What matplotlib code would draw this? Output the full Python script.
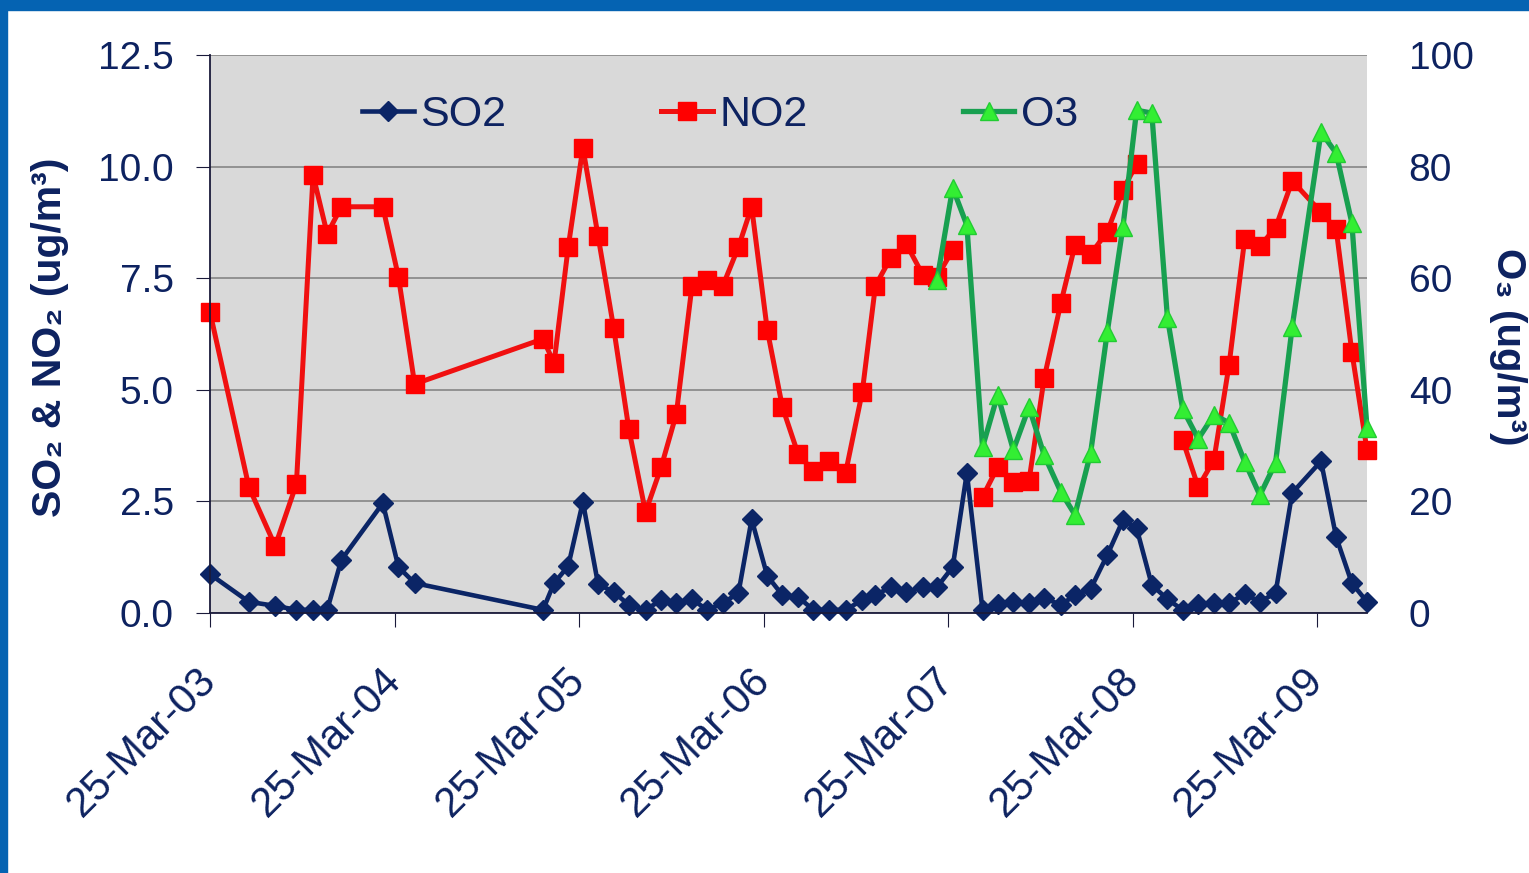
import numpy as np
import pandas as pd
import matplotlib
matplotlib.use('Agg')
import matplotlib.pyplot as plt
import matplotlib.dates as mdates
from matplotlib.patches import Rectangle

plt.rcParams['font.family'] = ['Liberation Sans', 'DejaVu Sans']

# monthly means
dates = ['2003-03-25', '2003-06-10', '2003-08-01', '2003-09-12', '2003-10-15', '2003-11-12',
         '2003-12-10', '2004-03-01', '2004-04-01', '2004-05-03', '2005-01-12', '2005-02-03',
         '2005-03-03', '2005-04-01', '2005-05-01', '2005-06-01', '2005-07-01', '2005-08-03',
         '2005-09-03', '2005-10-03', '2005-11-03', '2005-12-03', '2006-01-03', '2006-02-03',
         '2006-03-01', '2006-04-01', '2006-05-01', '2006-06-01', '2006-07-01', '2006-08-01',
         '2006-09-03', '2006-10-06', '2006-11-01', '2006-12-01', '2007-01-01', '2007-02-03',
         '2007-03-03', '2007-04-03', '2007-05-01', '2007-06-01', '2007-07-01', '2007-08-01',
         '2007-09-01', '2007-10-01', '2007-11-03', '2007-12-01', '2008-01-01', '2008-02-03',
         '2008-03-05', '2008-04-01', '2008-05-01', '2008-06-01', '2008-07-01', '2008-08-01',
         '2008-09-01', '2008-10-01', '2008-11-01', '2008-12-01', '2009-01-01', '2009-02-03',
         '2009-04-01', '2009-05-01', '2009-06-01', '2009-07-01']

so2 = [0.87, 0.25, 0.16, 0.07, 0.07, 0.07, 1.19, 2.46, 1.03, 0.67, 0.07, 0.67,
       1.05, 2.49, 0.65, 0.47, 0.18, 0.07, 0.29, 0.22, 0.31, 0.07, 0.22, 0.45,
       2.10, 0.83, 0.40, 0.36, 0.07, 0.07, 0.07, 0.29, 0.40, 0.58, 0.47, 0.58,
       0.58, 1.03, 3.14, 0.07, 0.20, 0.25, 0.22, 0.34, 0.18, 0.40, 0.54, 1.30,
       2.08, 1.90, 0.63, 0.31, 0.07, 0.20, 0.22, 0.22, 0.43, 0.25, 0.45, 2.69,
       3.40, 1.70, 0.67, 0.25]

no2 = [6.74, 2.82, 1.50, 2.89, 9.81, 8.49, 9.10, 9.10, 7.53, 5.13, 6.14, 5.60,
       8.20, 10.42, 8.45, 6.38, 4.12, 2.26, 3.27, 4.46, 7.33, 7.46, 7.33, 8.20,
       9.10, 6.34, 4.61, 3.56, 3.18, 3.40, 3.14, 4.95, 7.33, 7.95, 8.27, 7.57,
       7.53, 8.13, np.nan, 2.60, 3.27, 2.93, 2.96, 5.26, 6.94, 8.24, 8.04, 8.54,
       9.48, 10.06, np.nan, np.nan, 3.88, 2.82, 3.43, 5.56, 8.38, 8.22, 8.63, 9.68,
       8.98, 8.60, 5.85, 3.65]

o3 = [np.nan] * 36 + [59.7, 76.2, 69.5, 29.7, 39.1, 29.2, 36.9, 28.3, 21.7, 17.6, 28.7, 50.4,
                      69.2, 90.1, 89.6, 52.9, 36.6, 31.2, 35.5, 34.1, 27.1, 21.1, 26.9, 51.3,
                      86.2, 82.4, 69.9, 33.2]

tick_dates = ['2003-03-25', '2004-03-25', '2005-03-25', '2006-03-25',
              '2007-03-25', '2008-03-25', '2009-03-25']

t = pd.to_datetime(dates)
navy = '#0D2260'

fig = plt.figure(figsize=(15.29, 8.73), dpi=100)
fig.patches.append(Rectangle((0, 1 - 10 / 873), 1, 10 / 873, transform=fig.transFigure,
                             color='#0563B2', zorder=0))
fig.patches.append(Rectangle((0, 0), 7 / 1529, 1, transform=fig.transFigure,
                             color='#0563B2', zorder=0))

ax1 = fig.add_axes([210 / 1529, 1 - 613 / 873, (1367 - 210) / 1529, (613 - 55) / 873])
ax1.set_facecolor('#D9D9D9')
ax2 = ax1.twinx()

l1, = ax1.plot(t, so2, color='#0B2566', lw=3.3, marker='D', ms=10, label='SO2', clip_on=False)
l2, = ax1.plot(t, no2, color='#F01010', lw=3.6, marker='s', ms=13, mfc='#FF0000',
               mec='#FF0000', label='NO2', clip_on=False)
l3, = ax2.plot(t, o3, color='#18A050', lw=3.8, marker='^', ms=13, mfc='#33EE33',
               mec='#22CC33', label='O3', clip_on=False)

ax1.set_ylim(0, 12.5)
ax1.set_yticks(np.arange(0, 12.6, 2.5))
ax1.yaxis.set_major_formatter(matplotlib.ticker.FormatStrFormatter('%.1f'))
ax2.set_ylim(0, 100)
ax2.set_yticks(np.arange(0, 101, 20))
ax1.set_xlim(pd.Timestamp('2003-03-25'), pd.Timestamp('2009-07-01'))
ax1.set_xticks(pd.to_datetime(tick_dates))
ax1.xaxis.set_major_formatter(mdates.DateFormatter('%d-%b-%y'))

ax1.grid(axis='y', color='#8C8C8C', lw=1.3)
ax1.set_axisbelow(True)
for s in ['top', 'right']:
    ax1.spines[s].set_visible(False)
for s in ['top', 'right', 'left', 'bottom']:
    ax2.spines[s].set_visible(False)
ax1.spines['left'].set_color('#1A1A3A')
ax1.spines['bottom'].set_color('#1A1A3A')
ax1.spines['left'].set_linewidth(1.3)
ax1.spines['bottom'].set_linewidth(1.3)

ax1.tick_params(axis='y', labelsize=28, colors='#1A1A3A', labelcolor=navy, length=10, pad=16)
ax1.tick_params(axis='x', labelsize=30, colors='#1A1A3A', labelcolor=navy, length=10, pad=34)
ax2.tick_params(axis='y', labelsize=28, labelcolor=navy, length=0, pad=30)
for lab in ax1.get_xticklabels():
    lab.set_rotation(45)
    lab.set_ha('right')
    lab.set_va('center')
    lab.set_rotation_mode('anchor')

fig.text(50 / 1529, 1 - 337 / 873, 'SO\u2082 & NO\u2082 (ug/m\u00b3)', rotation=90,
         ha='center', va='center', fontsize=29.5, fontweight='bold', color=navy)
fig.text(1508 / 1529, 1 - 347 / 873, 'O\u2083 (ug/m\u00b3)', rotation=270,
         ha='center', va='center', fontsize=29, fontweight='bold', color=navy)

leg = ax2.legend(handles=[l1, l2, l3], ncol=3, loc='center', bbox_to_anchor=(0.441, 0.893),
                 frameon=False, fontsize=31, handlelength=1.2, handletextpad=0.15,
                 columnspacing=3.6, numpoints=1, labelcolor=navy)

fig.savefig('out.png', dpi=100)
